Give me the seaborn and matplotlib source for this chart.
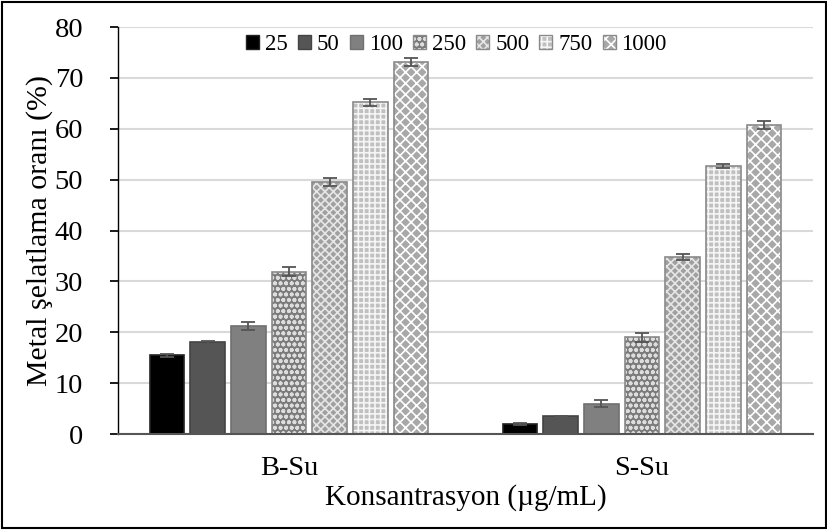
import matplotlib
matplotlib.use("Agg")
import matplotlib.pyplot as plt
import seaborn as sns
import pandas as pd
from matplotlib.patches import Rectangle

groups = ["B-Su", "S-Su"]
concs = ["25", "50", "100", "250", "500", "750", "1000"]
b_su = [15.5, 18.0, 21.3, 31.9, 49.6, 65.2, 73.2]
s_su = [1.9, 3.5, 6.0, 19.0, 34.8, 52.6, 60.8]
b_err = [0.3, 0.2, 0.8, 0.9, 0.8, 0.7, 0.8]
s_err = [0.2, 0.1, 0.6, 0.9, 0.6, 0.4, 0.8]

rows = []
for c, v1, v2, e1, e2 in zip(concs, b_su, s_su, b_err, s_err):
    rows.append({"grp": "B-Su", "conc": c, "val": v1, "err": e1})
    rows.append({"grp": "S-Su", "conc": c, "val": v2, "err": e2})
df = pd.DataFrame(rows)

sns.set_theme(style="white")
plt.rcParams['font.family'] = ['Liberation Serif', 'DejaVu Serif']
plt.rcParams['hatch.linewidth'] = 1.2
plt.rcParams['text.color'] = 'black'
plt.rcParams['axes.labelcolor'] = 'black'
plt.rcParams['xtick.color'] = 'black'
plt.rcParams['ytick.color'] = 'black'

fig = plt.figure(figsize=(8.28, 5.30), dpi=100)
ax = fig.add_axes([118 / 828, 0.181, 695 / 828, 0.768])

faces = ["#000000", "#555555", "#808080", "#7b7b7b", "#a0a0a0", "#c0c0c0", "#a8a8a8"]
hatches = [None, None, None, "ooo", "xxxx", "+++", "xxx"]
hcols = ["#000000", "#444444", "#707070", "#dddddd", "#e6e6e6", "#f5f5f5", "#ffffff"]
edges = ["#222222", "#444444", "#707070", "#8a8a8a", "#8a8a8a", "#8a8a8a", "#8a8a8a"]

sns.barplot(data=df, x="grp", y="val", hue="conc", order=groups, hue_order=concs,
            palette=faces, errorbar=None, width=0.806, gap=0.15, ax=ax, zorder=2)

bar_containers = list(ax.containers)
for i, cont in enumerate(bar_containers):
    c = concs[i]
    for j, bar in enumerate(cont):
        bar.set_edgecolor(edges[i])
        bar.set_linewidth(1.2)
        if hatches[i]:
            bar.set_hatch(hatches[i])
            bar._hatch_color = matplotlib.colors.to_rgba(hcols[i])
        sub = df[(df.conc == c) & (df.grp == groups[j])].iloc[0]
        xc = bar.get_x() + bar.get_width() / 2
        ax.errorbar(xc, sub.val, yerr=sub.err, color="#555555", capsize=5,
                    elinewidth=1.3, capthick=1.3, zorder=3)

ax.set_ylim(0, 80)
ax.set_yticks(range(0, 81, 10))
ax.yaxis.grid(True, color="#d9d9d9", linewidth=1.5, zorder=0)
ax.set_axisbelow(True)
for s in ["top", "right"]:
    ax.spines[s].set_visible(False)
ax.spines["left"].set_color("#000000")
ax.spines["left"].set_linewidth(1.0)
ax.spines["bottom"].set_color("#555555")
ax.spines["bottom"].set_linewidth(1.5)
ax.tick_params(axis="y", left=True, direction="out", length=6, color="#000000",
               labelsize=20.5, pad=19)
ax.tick_params(axis="x", bottom=False, labelsize=20.5, pad=10)
ax.set_xlabel("Konsantrasyon (µg/mL)", fontsize=21, labelpad=2)
ax.set_ylabel("Metal şelatlama oranı (%)", fontsize=21.5, labelpad=1)

leg = ax.legend(loc="upper center", ncol=7, frameon=False, fontsize=16.5,
                handlelength=0.57, handleheight=0.57, handletextpad=0.26,
                columnspacing=0.44, bbox_to_anchor=(0.487, 1.02), borderaxespad=0.25)
for h, i in zip(leg.legend_handles, range(7)):
    h.set_edgecolor(edges[i])
    if hatches[i]:
        h.set_hatch(hatches[i])
        h._hatch_color = matplotlib.colors.to_rgba(hcols[i])

fig.patches.append(Rectangle((0.003, 0.004), 0.994, 0.992, transform=fig.transFigure,
                             fill=False, edgecolor="black", linewidth=1.5))

fig.savefig("out.png", dpi=100)
